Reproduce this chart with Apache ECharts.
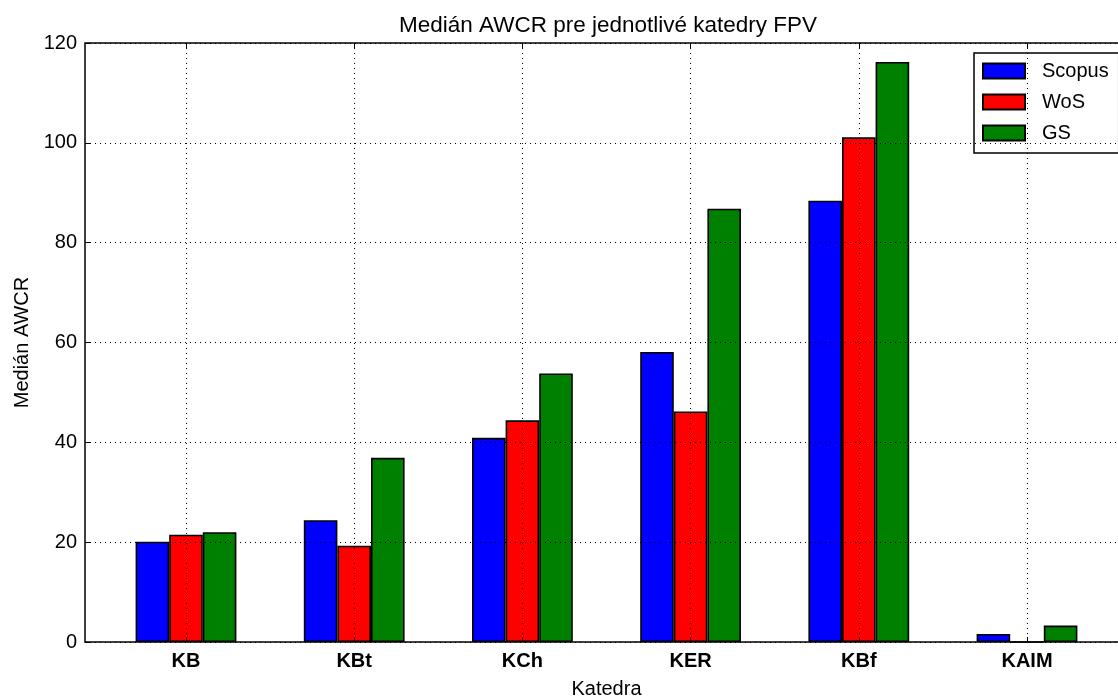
<!DOCTYPE html>
<html>
<head>
<meta charset="utf-8">
<script src="https://cdn.jsdelivr.net/npm/echarts@6/dist/echarts.min.js"></script>
<style>html,body{margin:0;padding:0;background:#fff}#c{width:1118px;height:699px}</style>
</head>
<body>
<div id="c"></div>
<script>
const categories = ['KB', 'KBt', 'KCh', 'KER', 'KBf', 'KAIM'];
const scopus = [20.1, 24.4, 40.9, 58.1, 88.4, 1.6];
const wos = [21.5, 19.3, 44.4, 46.2, 101.1, 0];
const gs = [22.0, 36.9, 53.8, 86.8, 116.2, 3.3];
const yTicks = [0, 20, 40, 60, 80, 100, 120];

const FONT = 'Liberation Sans';
const chart = echarts.init(document.getElementById('c'), null, {renderer: 'canvas'});
const dotted = {color: '#000', width: 1, type: [1, 4]};
function barSeries(name, data, color) {
  return {
    name: name, type: 'bar', data: data, xAxisIndex: 1, yAxisIndex: 1,
    barWidth: 33.6, barGap: '0%', clip: false,
    itemStyle: {color: color, borderColor: '#000', borderWidth: 1.6},
    emphasis: {disabled: true}, animation: false
  };
}
chart.setOption({
  animation: false,
  textStyle: {fontFamily: FONT},
  title: {
    text: 'Medián AWCR pre jednotlivé katedry FPV',
    left: 603, top: 9, textAlign: 'center',
    textStyle: {fontFamily: FONT, fontSize: 22.5, fontWeight: 'normal', color: '#000'}
  },
  legend: {
    left: 974, top: 53, orient: 'vertical', icon: 'rect',
    padding: [8, 10, 10, 8], itemWidth: 42, itemHeight: 15, itemGap: 11,
    backgroundColor: '#fff', borderColor: '#000', borderWidth: 1.5,
    textStyle: {fontFamily: FONT, fontSize: 20, color: '#000', padding: [0, 0, 0, 12]},
    data: ['Scopus', 'WoS', 'GS'], selectedMode: false
  },
  grid: [
    {left: 85, top: 43, width: 1042, height: 599, show: true, borderColor: '#000', borderWidth: 1.5,
     backgroundColor: 'transparent', containLabel: false, outerBoundsMode: 'none'},
    {left: 186, top: 43, width: 841, height: 599, containLabel: false, outerBoundsMode: 'none'}
  ],
  xAxis: [
    {type: 'value', gridIndex: 0, min: 0, max: 1, show: false},
    {type: 'category', gridIndex: 1, data: categories, boundaryGap: false, z: 5,
     name: 'Katedra', nameLocation: 'middle', nameGap: 37,
     nameTextStyle: {fontFamily: FONT, fontSize: 20, color: '#000'},
     axisLine: {show: false},
     axisTick: {show: true, inside: true, length: 5, lineStyle: {color: '#000'}},
     axisLabel: {fontFamily: FONT, fontSize: 20, fontWeight: 'bold', color: '#000', margin: 9, interval: 0},
     splitLine: {show: true, interval: 0, lineStyle: dotted}},
    {type: 'category', gridIndex: 1, data: categories, boundaryGap: false, position: 'top', z: 5,
     axisLine: {show: false}, axisLabel: {show: false},
     axisTick: {show: true, inside: true, length: 5, interval: 0, lineStyle: {color: '#000'}},
     splitLine: {show: false}}
  ],
  yAxis: [
    {type: 'value', gridIndex: 0, min: 0, max: 120, interval: 20, z: 5,
     name: 'Medián AWCR', nameLocation: 'middle', nameGap: 53,
     nameTextStyle: {fontFamily: FONT, fontSize: 20, color: '#000'},
     axisLine: {show: false},
     axisTick: {show: true, inside: true, length: 5, lineStyle: {color: '#000'}},
     axisLabel: {fontFamily: FONT, fontSize: 20, color: '#000', margin: 8,
       customValues: yTicks},
     splitLine: {show: true, lineStyle: dotted}},
    {type: 'value', gridIndex: 1, min: 0, max: 120, show: false, splitLine: {show: false}}
  ],
  series: [
    barSeries('Scopus', scopus, '#0000ff'),
    barSeries('WoS', wos, '#ff0000'),
    barSeries('GS', gs, '#008000')
  ]
});
</script>
</body>
</html>
